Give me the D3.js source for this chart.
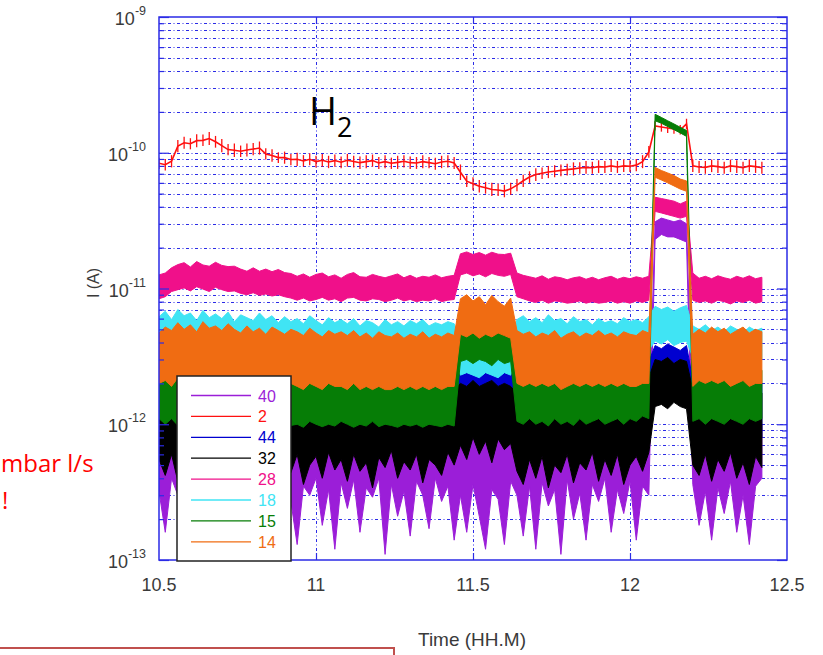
<!DOCTYPE html>
<html lang="en">
<head>
<meta charset="utf-8">
<title>Ion currents vs time</title>
<script src="https://cdn.jsdelivr.net/npm/d3@7"></script>
<style>
  body { margin: 0; background: #fff; }
  svg { display: block; }
  .axisText { font-family: "Liberation Sans", Arial, sans-serif; fill: #3a3a3a; }
  .legend text { font-family: "Liberation Sans", Arial, sans-serif; font-size: 16px; }
</style>
</head>
<body>
<div id="chart"></div>
<script>

var w = 823, h = 655;
var plotL = 159, plotR = 787, plotT = 17, plotB = 560;

// sample times (HH.M)
var times = [10.50,10.52,10.54,10.56,10.58,10.60,10.62,10.64,10.66,10.68,
             10.70,10.72,10.74,10.76,10.78,10.80,10.82,10.84,10.86,10.88,
             10.90,10.92,10.94,10.96,10.98,11.00,11.02,11.04,11.06,11.08,
             11.10,11.12,11.14,11.16,11.18,11.20,11.22,11.24,11.26,11.28,
             11.30,11.32,11.34,11.36,11.38,11.40,11.42,11.44,11.46,11.48,
             11.50,11.52,11.54,11.56,11.58,11.60,11.62,11.64,11.66,11.68,
             11.70,11.72,11.74,11.76,11.78,11.80,11.82,11.84,11.86,11.88,
             11.90,11.92,11.94,11.96,11.98,12.00,12.02,12.04,12.06,12.08,
             12.10,12.12,12.14,12.16,12.18,12.20,12.22,12.24,12.26,12.28,
             12.30,12.32,12.34,12.36,12.38,12.40,12.42];

// currents in pA: upper and lower edge of each noisy trace
var hi40 = [1.0,0.95,1.05,0.9,1.0,1.1,0.92,1.0,0.96,1.04,
            0.98,1.05,0.93,1.0,1.08,0.95,1.0,1.03,0.94,1.0,
            1.05,0.96,1.0,0.92,1.04,0.98,1.0,1.06,0.95,1.0,
            0.97,1.03,0.94,1.0,1.05,0.96,1.0,0.93,1.04,0.98,
            1.0,0.95,1.05,0.97,1.0,1.04,0.94,1.0,1.2,1.25,
            1.15,1.2,1.25,1.18,1.22,1.15,1.2,1.0,0.96,1.04,
            0.98,1.02,0.95,1.0,1.05,0.97,1.0,1.03,0.94,1.0,
            1.04,0.96,1.0,0.93,1.05,0.98,1.0,1.02,1.0,31,
            33,32,31,32,30,1.0,0.96,1.04,0.95,1.0,
            1.03,0.97,1.0,0.94,1.05,0.98,1.0];
var lo40 = [0.32,0.16,0.4,0.3,0.13,0.36,0.28,0.42,0.19,0.34,
            0.38,0.22,0.33,0.14,0.4,0.3,0.17,0.36,0.31,0.15,
            0.41,0.27,0.13,0.35,0.3,0.4,0.18,0.33,0.12,0.37,
            0.24,0.39,0.16,0.34,0.29,0.4,0.11,0.36,0.21,0.32,
            0.15,0.38,0.3,0.17,0.4,0.27,0.35,0.14,0.3,0.16,
            0.36,0.21,0.12,0.33,0.28,0.13,0.38,0.3,0.15,0.35,
            0.12,0.37,0.25,0.33,0.11,0.39,0.2,0.31,0.14,0.36,
            0.27,0.4,0.16,0.33,0.22,0.38,0.14,0.35,0.3,23,
            25,24,24,23,22,0.36,0.18,0.32,0.14,0.34,
            0.22,0.38,0.16,0.3,0.13,0.35,0.4];

var hi2 = [92,90,96,124,131,128,137,136,142,133,
           126,116,117,113,117,118,121,108,106,101,
           102,98,100,96,99,95,98,95,97,94,
           98,95,94,96,97,93,96,92,95,96,
           94,93,96,93,92,95,96,93,82,68,
           66,63,61,60,59,58,60,64,69,73,
           77,78,80,81,82,83,85,85,87,86,
           88,87,89,87,89,88,90,96,112,170,
           168,165,163,160,178,89,87,87,89,88,
           86,89,88,86,89,88,86];
var lo2 = [76,74,78,101,107,106,110,112,114,109,
           101,96,93,93,94,96,97,89,86,84,
           83,81,80,79,81,78,79,77,79,77,
           79,78,76,77,79,76,77,76,76,78,
           76,76,77,77,75,77,78,76,63,56,
           53,51,50,48,48,47,49,52,56,60,
           62,64,65,66,67,68,68,70,70,70,
           71,71,72,71,72,72,73,77,92,146,
           143,140,138,136,150,72,71,70,72,71,
           70,72,71,70,72,71,70];

var hi44 = [2.2,2.0,2.4,2.1,1.9,2.3,2.0,2.2,1.9,2.1,
            2.3,2.0,2.1,1.9,2.2,2.0,2.3,1.9,2.1,2.0,
            2.2,1.9,2.1,2.0,2.3,1.9,2.0,2.2,1.9,2.1,
            2.0,2.2,1.9,2.1,2.0,1.9,2.2,2.0,2.1,1.9,
            2.1,2.0,2.2,1.9,2.0,2.1,1.9,2.2,2.6,2.7,
            2.5,2.6,2.7,2.5,2.6,2.4,2.6,2.0,2.1,1.9,
            2.2,2.0,2.1,1.9,2.2,2.0,2.1,2.3,2.0,2.2,
            2.1,2.3,2.0,2.2,2.4,2.3,2.6,2.8,2.9,3.8,
            3.6,3.9,3.7,3.5,3.8,2.1,2.0,2.2,1.9,2.1,
            2.0,2.2,1.9,2.1,2.0,2.2,2.0];
var lo44 = [0.85,0.8,0.9,0.78,0.85,0.8,0.88,0.76,0.84,0.8,
            0.86,0.78,0.82,0.8,0.87,0.77,0.83,0.8,0.85,0.78,
            0.82,0.8,0.86,0.77,0.83,0.8,0.78,0.85,0.8,0.82,
            0.78,0.84,0.8,0.76,0.83,0.8,0.85,0.77,0.82,0.8,
            0.84,0.78,0.82,0.8,0.77,0.85,0.8,0.82,1.6,1.5,
            1.6,1.7,1.5,1.6,1.7,1.5,1.6,0.8,0.84,0.78,
            0.82,0.8,0.85,0.78,0.83,0.8,0.86,0.79,0.82,0.8,
            0.84,0.8,0.83,0.78,0.85,0.82,0.86,0.9,1.0,2.2,
            2.3,2.1,2.2,2.3,2.1,0.82,0.8,0.85,0.78,0.83,
            0.8,0.84,0.78,0.82,0.8,0.83,0.8];

var hi32 = [1.7,1.9,1.6,1.8,1.7,1.9,1.6,1.8,1.7,1.9,
            1.6,1.8,1.7,1.9,1.6,1.7,1.8,1.6,1.9,1.7,
            1.8,1.6,1.7,1.9,1.6,1.8,1.7,1.6,1.8,1.7,
            1.6,1.8,1.7,1.6,1.9,1.7,1.6,1.8,1.7,1.6,
            1.8,1.7,1.6,1.8,1.7,1.9,1.6,1.8,2.0,1.9,
            2.1,1.9,2.0,2.1,1.9,2.0,1.9,1.7,1.8,1.6,
            1.8,1.7,1.9,1.6,1.8,1.7,1.6,1.9,1.7,1.8,
            1.6,1.8,1.7,1.9,1.7,1.8,2.0,2.1,2.2,3.0,
            2.9,3.1,2.8,3.0,2.9,1.8,1.7,1.9,1.6,1.8,
            1.7,1.9,1.6,1.8,1.7,1.9,1.7];
var lo32 = [0.55,0.42,0.6,0.38,0.5,0.65,0.4,0.52,0.36,0.58,
            0.45,0.62,0.4,0.55,0.35,0.6,0.48,0.42,0.66,0.38,
            0.54,0.44,0.6,0.36,0.5,0.58,0.4,0.62,0.46,0.55,
            0.38,0.6,0.45,0.52,0.34,0.57,0.48,0.64,0.4,0.53,
            0.46,0.6,0.37,0.55,0.5,0.42,0.62,0.5,0.7,0.55,
            0.8,0.6,0.75,0.52,0.78,0.65,0.72,0.45,0.36,0.55,
            0.4,0.58,0.34,0.5,0.44,0.6,0.37,0.52,0.46,0.62,
            0.38,0.55,0.42,0.6,0.36,0.5,0.58,0.45,0.62,1.35,
            1.4,1.3,1.45,1.35,1.3,0.5,0.42,0.6,0.38,0.55,
            0.45,0.62,0.4,0.52,0.36,0.58,0.48];

var hi28 = [12.6,13.0,14.2,15.0,15.5,14.4,15.8,14.9,14.6,15.6,
            14.8,14.5,14.6,13.9,13.4,14.2,13.4,13.9,13.3,13.8,
            13.1,12.9,12.3,12.8,12.1,12.7,13.0,12.2,12.6,11.9,
            12.7,13.1,12.2,12.1,12.7,12.3,12.0,12.4,12.8,12.0,
            12.5,11.9,12.3,12.1,12.6,12.0,12.3,12.5,18.0,18.6,
            17.8,18.4,17.6,18.5,17.9,17.8,18.2,13.0,12.5,12.2,
            11.9,12.4,11.7,12.2,12.0,11.6,12.0,12.2,11.7,12.1,
            11.6,12.0,12.3,11.7,12.1,11.8,12.2,11.9,12.3,47,
            46,45,44,42,44,13.0,11.9,12.3,11.8,12.4,
            12.0,11.7,12.3,11.9,12.4,11.8,12.1];
var lo28 = [8.4,8.7,9.5,9.8,10.1,9.6,10.3,9.9,9.5,10.2,
            9.8,9.5,9.6,9.2,9.0,9.3,8.9,9.1,8.8,9.0,
            8.7,8.5,8.2,8.5,8.1,8.3,8.6,8.2,8.4,8.0,
            8.5,8.6,8.2,8.1,8.4,8.3,8.0,8.2,8.5,8.1,
            8.3,8.0,8.2,8.1,8.4,8.0,8.2,8.3,12.6,13.0,
            12.4,12.8,12.2,12.9,12.5,12.3,12.7,8.7,8.4,8.1,
            7.9,8.2,7.8,8.1,8.0,7.8,7.9,8.1,7.8,8.0,
            7.8,7.9,8.1,7.8,8.0,7.8,8.1,7.9,8.2,37,
            36,35,34,33,34,8.2,7.9,8.1,7.8,8.2,
            8.0,7.7,8.1,7.9,8.2,7.8,8.0];

var hi18 = [6.2,6.8,5.9,7.0,6.3,6.6,5.8,6.9,6.1,6.5,
            6.0,6.7,5.7,6.4,6.1,5.8,6.6,5.9,6.3,5.6,
            6.2,5.7,6.0,5.5,6.3,5.8,5.4,6.1,5.6,5.9,
            5.5,6.0,5.3,5.8,5.6,5.2,5.9,5.4,5.7,5.3,
            5.8,5.5,5.9,5.3,5.6,5.4,5.7,5.5,4.0,4.1,
            3.9,4.0,4.1,3.9,4.0,4.1,3.9,5.9,6.3,5.7,
            6.1,5.6,6.4,5.8,6.0,5.5,6.2,5.7,5.9,5.4,
            6.0,5.6,5.8,5.5,6.1,5.7,5.9,5.6,6.2,7.4,
            7.0,7.3,6.8,7.2,7.5,5.3,5.0,5.4,4.9,5.2,
            4.8,5.3,5.0,4.7,5.2,4.9,5.1];
var lo18 = [3.6,3.8,3.5,3.9,3.6,3.7,3.4,3.8,3.5,3.7,
            3.5,3.7,3.4,3.6,3.5,3.4,3.7,3.4,3.6,3.3,
            3.5,3.3,3.5,3.2,3.6,3.4,3.2,3.5,3.3,3.4,
            3.2,3.5,3.1,3.4,3.3,3.1,3.4,3.2,3.3,3.1,
            3.4,3.2,3.4,3.1,3.3,3.2,3.3,3.2,2.3,2.4,
            2.3,2.2,2.4,2.3,2.2,2.4,2.3,3.4,3.6,3.3,
            3.5,3.3,3.6,3.4,3.5,3.2,3.6,3.3,3.4,3.2,
            3.5,3.3,3.4,3.2,3.5,3.3,3.4,3.3,3.5,4.1,
            3.9,4.2,3.8,4.0,4.1,3.1,3.0,3.2,2.9,3.1,
            2.9,3.1,3.0,2.8,3.1,2.9,3.0];

var hi15 = [2.9,3.2,2.7,3.0,3.3,2.8,3.1,2.6,3.0,2.8,
            3.2,2.7,2.9,3.1,2.6,2.9,2.7,3.0,2.6,2.8,
            3.0,2.6,2.9,2.7,3.1,2.6,2.8,2.5,2.9,2.7,
            3.0,2.6,2.8,2.5,2.9,2.7,2.5,2.8,2.6,2.9,
            2.6,2.8,2.5,2.7,2.9,2.6,2.8,2.7,5.2,5.6,
            4.9,5.4,5.0,4.6,5.3,4.8,5.1,2.8,2.5,2.7,
            2.4,2.8,2.5,2.6,2.3,2.7,2.5,2.4,2.8,2.5,
            2.6,2.3,2.7,2.5,2.4,2.8,2.6,2.5,2.7,192,
            182,172,163,154,146,2.6,2.8,2.5,2.7,2.4,
            2.6,2.8,2.5,2.7,2.4,2.6,2.5];
var lo15 = [1.1,1.0,1.1,0.98,1.1,1.0,1.05,0.97,1.1,1.0,
            1.05,0.98,1.1,1.0,0.96,1.05,1.0,1.1,0.97,1.0,
            1.05,0.98,1.0,0.95,1.05,1.0,0.96,1.0,0.97,1.05,
            1.0,0.95,1.0,0.97,1.05,0.96,1.0,0.98,0.95,1.0,
            0.97,1.0,0.95,1.0,0.98,0.96,1.0,0.97,2.9,3.0,
            2.8,3.0,2.9,2.7,3.0,2.8,2.9,1.05,1.0,1.1,
            1.0,1.05,0.97,1.1,1.0,1.05,0.98,1.1,1.0,1.05,
            1.1,1.0,1.05,1.1,1.0,1.1,1.05,1.15,1.1,172,
            165,156,148,140,132,1.05,1.1,1.0,1.1,1.05,
            1.0,1.1,1.05,1.0,1.1,1.05,1.1];

var hi14 = [4.7,5.2,4.9,5.6,5.0,5.4,4.8,5.7,5.1,5.3,
            4.9,5.5,5.0,4.7,5.3,4.8,5.1,4.6,5.2,4.9,
            4.6,5.0,4.8,4.5,5.1,4.7,4.4,4.9,4.6,4.8,
            4.5,4.9,4.4,4.7,4.3,4.8,4.5,4.4,4.7,4.3,
            4.6,4.4,4.8,4.3,4.6,4.4,4.7,4.5,8.4,9.0,
            8.1,8.7,7.6,8.9,8.0,7.4,8.5,4.9,4.6,4.8,
            4.4,4.7,4.5,4.9,4.3,4.6,4.8,4.4,4.7,4.5,
            4.9,4.5,4.7,4.4,4.8,4.6,4.5,4.9,4.7,78,
            74,71,68,64,62,4.6,5.0,4.7,5.2,4.8,
            5.1,4.6,4.9,5.2,4.7,5.0,4.8];
var lo14 = [2.0,2.1,1.9,2.2,2.0,2.1,1.9,2.2,2.0,2.1,
            1.9,2.1,2.0,1.9,2.1,1.9,2.0,1.8,2.0,1.9,
            1.9,2.0,1.9,1.8,2.0,1.9,1.8,2.0,1.9,1.9,
            1.8,2.0,1.8,1.9,1.8,1.9,1.8,1.8,1.9,1.8,
            1.9,1.8,1.9,1.8,1.9,1.8,1.9,1.9,4.6,4.4,
            4.7,4.3,4.6,4.4,4.7,4.5,4.3,2.0,1.9,2.0,
            1.9,2.0,1.9,2.0,1.8,1.9,2.0,1.9,2.0,1.9,
            2.0,1.9,2.0,1.9,2.0,1.9,1.9,2.0,2.0,66,
            63,60,57,54,52,1.9,2.1,2.0,2.1,2.0,
            2.1,1.9,2.0,2.1,1.9,2.0,2.0];

// legend / plotting order
var names = ["40", "2", "44", "32", "28", "18", "15", "14"];
var colors = ["#9b1ed8", "#ff1010", "#0000d0", "#000000", "#f0108a", "#40e4f4", "#067d06", "#f06c12"];
var his = [hi40, hi2, hi44, hi32, hi28, hi18, hi15, hi14];
var los = [lo40, lo2, lo44, lo32, lo28, lo18, lo15, lo14];

var decades = [1e-13, 1e-12, 1e-11, 1e-10, 1e-9];
var xTicks = [10.5, 11, 11.5, 12, 12.5];

var blue = "#2b2be6";

var svg = d3.select("#chart")
            .append("svg")
            .attr("width", w)
            .attr("height", h);

var xScale = d3.scaleLinear().domain([10.5, 12.5]).range([plotL, plotR]);
var yScale = d3.scaleLog().domain([1e-13, 1e-9]).range([plotB, plotT]);

function yv(pA) { return yScale(pA * 1e-12); }

// grid
var grid = svg.append("g").attr("stroke", blue).attr("stroke-width", 1)
              .attr("stroke-dasharray", "3,2.5,1,2.5");
grid.selectAll("line.gy")
    .data(yScale.ticks().filter(function(d){ return d > 1.01e-13 && d < 0.99e-9; }))
    .enter().append("line")
    .attr("x1", plotL).attr("x2", plotR)
    .attr("y1", function(d){ return Math.round(yScale(d)) + 0.5; })
    .attr("y2", function(d){ return Math.round(yScale(d)) + 0.5; });
grid.selectAll("line.gx")
    .data([11, 11.5, 12])
    .enter().append("line")
    .attr("x1", function(d){ return Math.round(xScale(d)) + 0.5; })
    .attr("x2", function(d){ return Math.round(xScale(d)) + 0.5; })
    .attr("y1", plotT).attr("y2", plotB);

// traces
svg.append("clipPath").attr("id", "clip")
    .append("rect").attr("x", plotL).attr("y", plotT)
    .attr("width", plotR - plotL).attr("height", plotB - plotT);

var traces = svg.append("g").attr("clip-path", "url(#clip)");

names.forEach(function(name, k) {
    var hi = his[k], lo = los[k], col = colors[k];
    var g = traces.append("g");
    if (name === "2") {
        // thin trace with vertical noise ticks
        var mid = d3.line()
                    .x(function(d, i){ return xScale(times[i]); })
                    .y(function(d, i){ return yv(Math.sqrt(hi[i] * lo[i])); });
        g.append("path").datum(hi).attr("d", mid)
            .attr("fill", "none").attr("stroke", col).attr("stroke-width", 1.6);
        g.selectAll("line").data(hi).enter().append("line")
            .attr("x1", function(d, i){ return xScale(times[i]); })
            .attr("x2", function(d, i){ return xScale(times[i]); })
            .attr("y1", function(d, i){ return yv(hi[i]); })
            .attr("y2", function(d, i){ return yv(lo[i]); })
            .attr("stroke", col).attr("stroke-width", 1.3);
    } else {
        var band = d3.area()
                     .x(function(d, i){ return xScale(times[i]); })
                     .y0(function(d, i){ return yv(lo[i]); })
                     .y1(function(d, i){ return yv(hi[i]); });
        g.append("path").datum(hi).attr("d", band)
            .attr("fill", col).attr("stroke", col)
            .attr("stroke-width", 1).attr("stroke-linejoin", "round");
    }
});

// frame and ticks
svg.append("rect")
    .attr("x", plotL).attr("y", plotT)
    .attr("width", plotR - plotL).attr("height", plotB - plotT)
    .attr("fill", "none").attr("stroke", blue).attr("stroke-width", 1.5);

var minor = yScale.ticks().filter(function(d){ return decades.indexOf(d) < 0; });

function tickAxis(axis, tx, ty) {
    var g = svg.append("g").attr("transform", "translate(" + tx + "," + ty + ")").call(axis);
    g.select(".domain").remove();
    g.selectAll(".tick line").attr("stroke", blue).attr("stroke-width", 1.2);
    g.selectAll(".tick text").remove();
    return g;
}
tickAxis(d3.axisLeft(yScale).tickValues(decades).tickSize(-10), plotL, 0);
tickAxis(d3.axisLeft(yScale).tickValues(minor).tickSize(-5), plotL, 0);
tickAxis(d3.axisRight(yScale).tickValues(decades).tickSize(-10), plotR, 0);
tickAxis(d3.axisRight(yScale).tickValues(minor).tickSize(-5), plotR, 0);
tickAxis(d3.axisBottom(xScale).tickValues([11, 11.5, 12]).tickSize(-7), 0, plotB);
tickAxis(d3.axisTop(xScale).tickValues([11, 11.5, 12]).tickSize(-7), 0, plotT);

// tick labels
svg.selectAll("text.ylab")
    .data(decades)
    .enter().append("text")
    .attr("class", "axisText")
    .attr("text-anchor", "end")
    .attr("x", 146)
    .attr("y", function(d){ return yScale(d) + 8; })
    .attr("font-size", 18)
    .each(function(d) {
        var t = d3.select(this);
        t.append("tspan").text("10");
        t.append("tspan").attr("dy", -10).attr("font-size", 12.5)
            .text(Math.round(Math.log10(d)));
    });

svg.selectAll("text.xlab")
    .data(xTicks)
    .enter().append("text")
    .attr("class", "axisText")
    .attr("text-anchor", "middle")
    .attr("x", function(d){ return xScale(d); })
    .attr("y", 591)
    .attr("font-size", 18)
    .text(function(d){ return d; });

svg.append("text")
    .attr("class", "axisText")
    .attr("text-anchor", "middle")
    .attr("x", 472).attr("y", 646)
    .attr("font-size", 19)
    .text("Time (HH.M)");

svg.append("text")
    .attr("class", "axisText")
    .attr("text-anchor", "middle")
    .attr("transform", "translate(99,283) rotate(-90)")
    .attr("font-size", 16)
    .text("I (A)");

// H2 label
var h2 = svg.append("text")
            .attr("x", 309).attr("y", 125)
            .attr("font-family", "'Open Sans', sans-serif")
            .attr("fill", "#000");
h2.append("tspan").attr("font-size", 38).text("H");
h2.append("tspan").attr("font-size", 27).attr("dy", 12).text("2");

// legend
var legend = svg.append("g").attr("class", "legend");
legend.append("rect")
    .attr("x", 177).attr("y", 376)
    .attr("width", 114).attr("height", 185)
    .attr("fill", "#fff").attr("stroke", "#222").attr("stroke-width", 1.5);
var rows = legend.selectAll("g.row")
    .data(names)
    .enter().append("g")
    .attr("transform", function(d, i){ return "translate(0," + (395.5 + i * 20.9) + ")"; });
rows.append("line")
    .attr("x1", 191).attr("x2", 251)
    .attr("stroke", function(d, i){ return colors[i]; })
    .attr("stroke-width", 1.3);
rows.append("text")
    .attr("x", 258).attr("y", 6)
    .attr("fill", function(d, i){ return colors[i]; })
    .text(function(d){ return d; });

// annotation text at the left edge
svg.append("text")
    .attr("x", 1).attr("y", 472)
    .attr("font-family", "'Open Sans', sans-serif")
    .attr("font-size", 24)
    .attr("fill", "#ff0000")
    .text("mbar l/s");
svg.append("text")
    .attr("x", 2).attr("y", 509)
    .attr("font-family", "'Open Sans', sans-serif")
    .attr("font-size", 24)
    .attr("fill", "#ff0000")
    .text("!");

svg.append("rect")
    .attr("x", -2).attr("y", 648)
    .attr("width", 396).attr("height", 30)
    .attr("fill", "none").attr("stroke", "#c0504d").attr("stroke-width", 2);

</script>
</body>
</html>
